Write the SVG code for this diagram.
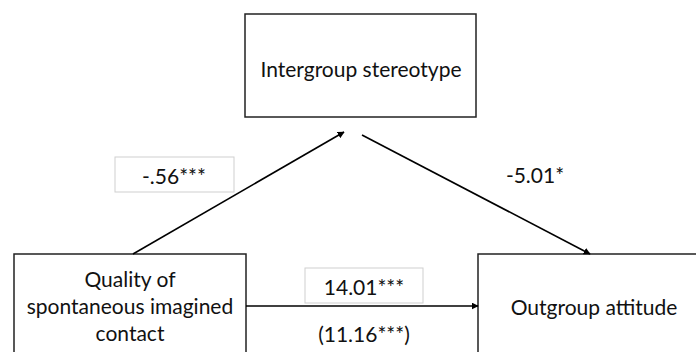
<svg xmlns="http://www.w3.org/2000/svg" width="696" height="352" viewBox="0 0 696 352">
<style>
.box{fill:#fff;stroke:#222;stroke-width:1.5}
.lbox{fill:#fff;stroke:#cfcfcf;stroke-width:1}
.t{font-family:Lato,"Liberation Sans",sans-serif;font-size:21px;fill:#111;text-anchor:middle;dominant-baseline:central}
.c{stroke:#000;stroke-width:1.6;fill:none;marker-end:url(#ah)}
</style>
<defs>
<marker id="ah" viewBox="0 0 10 10" refX="9" refY="5" markerWidth="7" markerHeight="7" markerUnits="userSpaceOnUse" orient="auto">
<path d="M0,0 L10,5 L0,10 z" fill="#000"/>
</marker>
</defs>
<rect width="696" height="352" fill="#fff"/>
<g id="stereotype">
<rect class="box" x="245" y="14" width="231" height="103"/>
<text class="t" x="361" y="68">Intergroup stereotype</text>
</g>
<g id="contact">
<rect class="box" x="14" y="254" width="232" height="110"/>
<text class="t" x="130" y="278">Quality of</text>
<text class="t" x="130" y="305">spontaneous imagined</text>
<text class="t" x="130" y="332">contact</text>
</g>
<g id="attitude">
<rect class="box" x="478" y="254" width="230" height="110"/>
<text class="t" x="594" y="306">Outgroup attitude</text>
</g>
<g id="connectors">
<line class="c" x1="133" y1="254" x2="344" y2="132"/>
<line class="c" x1="362" y1="135" x2="590" y2="254"/>
<line class="c" x1="246" y1="306" x2="478" y2="306"/>
</g>
<g id="labels">
<rect class="lbox" x="115" y="157" width="119" height="35"/>
<text class="t" x="174" y="175">-.56***</text>
<text class="t" x="535" y="174">-5.01*</text>
<rect class="lbox" x="305" y="268" width="118" height="35"/>
<text class="t" x="364" y="286">14.01***</text>
<text class="t" x="364" y="333">(11.16***)</text>
</g>
</svg>
